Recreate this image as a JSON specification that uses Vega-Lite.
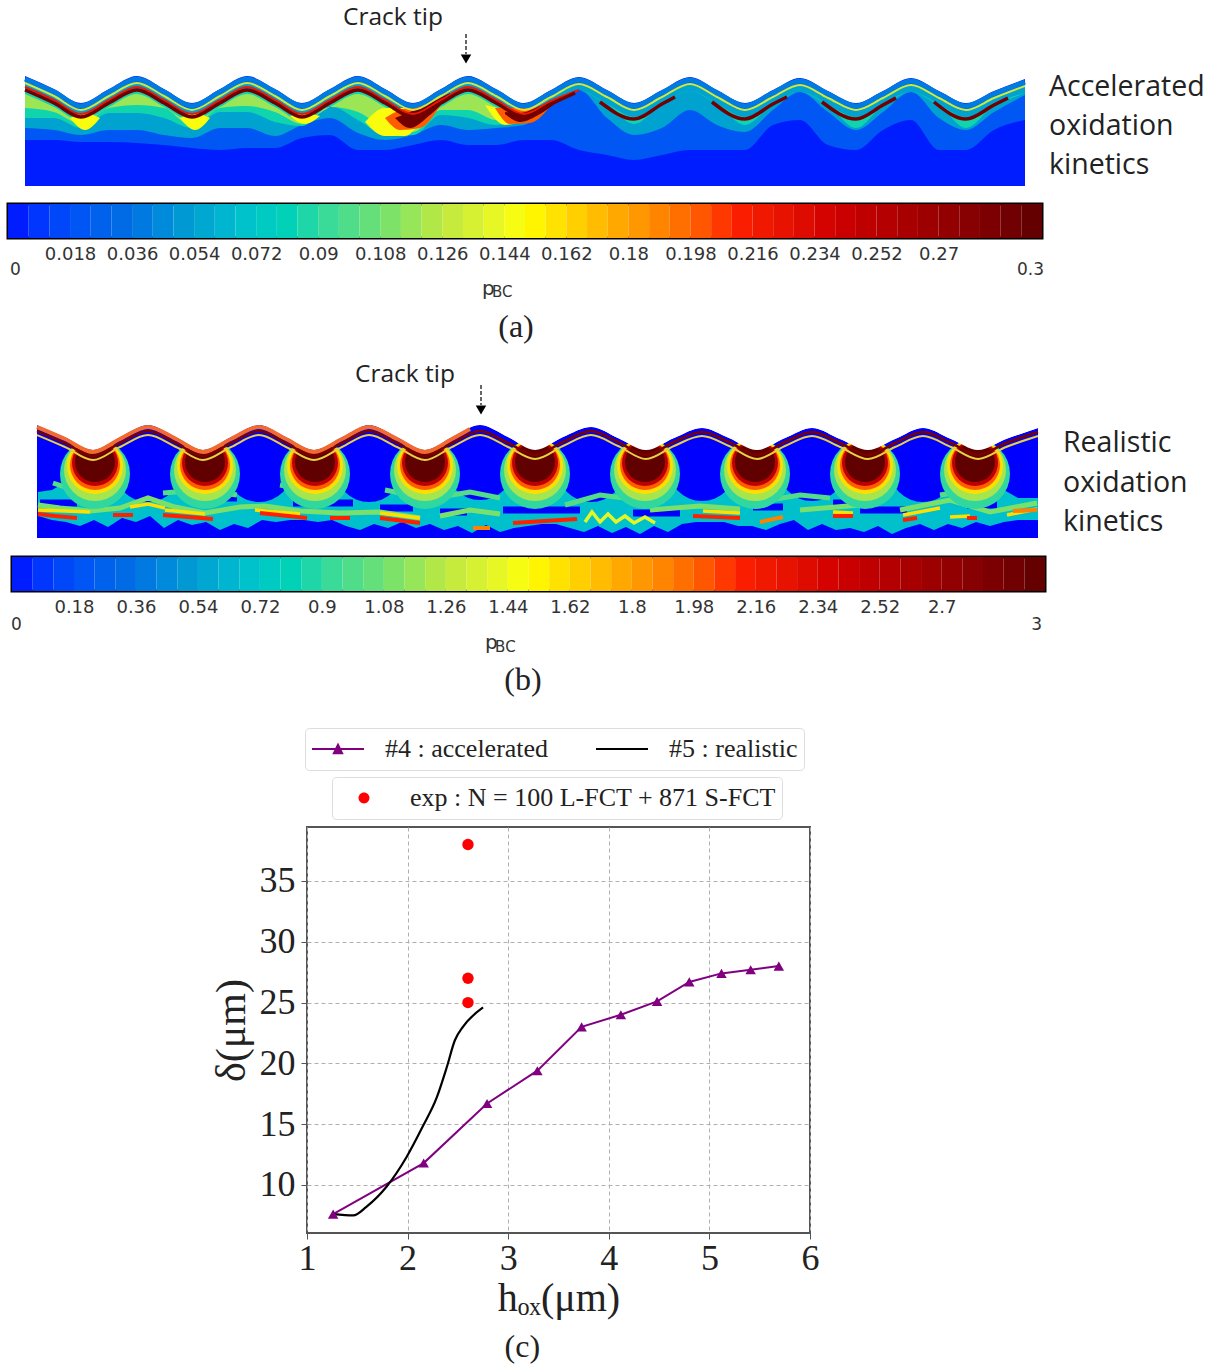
{"$schema":"https://vega.github.io/schema/vega-lite/v6.json","padding":{"left":6,"top":0,"right":0,"bottom":0},"bounds":"flush","spacing":0,"config":{"view":{"stroke":null}},"resolve":{"scale":{"color":"independent","shape":"independent","fill":"independent"}},
"vconcat":[
{"width":1034,"height":204,
"data":{"values":[
{"g":"base","v":0.003,"x":25,"y":76,"y2":186},{"g":"base","v":0.003,"x":54,"y":89,"y2":186},{"g":"base","v":0.003,"x":81,"y":103,"y2":186},{"g":"base","v":0.003,"x":109,"y":89,"y2":186},{"g":"base","v":0.003,"x":137,"y":76,"y2":186},{"g":"base","v":0.003,"x":164,"y":89,"y2":186},{"g":"base","v":0.003,"x":192,"y":103,"y2":186},{"g":"base","v":0.003,"x":220,"y":89,"y2":186},{"g":"base","v":0.003,"x":247,"y":76,"y2":186},{"g":"base","v":0.003,"x":275,"y":89,"y2":186},{"g":"base","v":0.003,"x":302,"y":103,"y2":186},{"g":"base","v":0.003,"x":330,"y":89,"y2":186},{"g":"base","v":0.003,"x":358,"y":76,"y2":186},{"g":"base","v":0.003,"x":385,"y":89,"y2":186},{"g":"base","v":0.003,"x":413,"y":103,"y2":186},{"g":"base","v":0.003,"x":441,"y":89,"y2":186},{"g":"base","v":0.003,"x":468,"y":76,"y2":186},{"g":"base","v":0.003,"x":496,"y":89,"y2":186},{"g":"base","v":0.003,"x":524,"y":103,"y2":186},{"g":"base","v":0.003,"x":551,"y":90,"y2":186},{"g":"base","v":0.003,"x":579,"y":77,"y2":186},{"g":"base","v":0.003,"x":607,"y":90,"y2":186},{"g":"base","v":0.003,"x":634,"y":103,"y2":186},{"g":"base","v":0.003,"x":662,"y":90,"y2":186},{"g":"base","v":0.003,"x":690,"y":77,"y2":186},{"g":"base","v":0.003,"x":717,"y":90,"y2":186},{"g":"base","v":0.003,"x":745,"y":103,"y2":186},{"g":"base","v":0.003,"x":773,"y":90,"y2":186},{"g":"base","v":0.003,"x":800,"y":78,"y2":186},{"g":"base","v":0.003,"x":828,"y":91,"y2":186},{"g":"base","v":0.003,"x":856,"y":103,"y2":186},{"g":"base","v":0.003,"x":883,"y":91,"y2":186},{"g":"base","v":0.003,"x":911,"y":78,"y2":186},{"g":"base","v":0.003,"x":939,"y":91,"y2":186},{"g":"base","v":0.003,"x":966,"y":103,"y2":186},{"g":"base","v":0.003,"x":994,"y":91,"y2":186},{"g":"base","v":0.003,"x":1025,"y":79,"y2":186},
{"g":"L1","v":0.022,"x":25,"y":81,"y2":140},{"g":"L1","v":0.022,"x":54,"y":94,"y2":140},{"g":"L1","v":0.022,"x":81,"y":108,"y2":142},{"g":"L1","v":0.022,"x":109,"y":94,"y2":142},{"g":"L1","v":0.022,"x":137,"y":81,"y2":143},{"g":"L1","v":0.022,"x":164,"y":94,"y2":145},{"g":"L1","v":0.022,"x":192,"y":108,"y2":148},{"g":"L1","v":0.022,"x":220,"y":94,"y2":150},{"g":"L1","v":0.022,"x":247,"y":81,"y2":148},{"g":"L1","v":0.022,"x":275,"y":94,"y2":148},{"g":"L1","v":0.022,"x":302,"y":108,"y2":138},{"g":"L1","v":0.022,"x":330,"y":94,"y2":135},{"g":"L1","v":0.022,"x":358,"y":81,"y2":150},{"g":"L1","v":0.022,"x":385,"y":94,"y2":150},{"g":"L1","v":0.022,"x":413,"y":108,"y2":145},{"g":"L1","v":0.022,"x":441,"y":94,"y2":140},{"g":"L1","v":0.022,"x":468,"y":81,"y2":145},{"g":"L1","v":0.022,"x":496,"y":94,"y2":145},{"g":"L1","v":0.022,"x":524,"y":108,"y2":140},{"g":"L1","v":0.022,"x":551,"y":95,"y2":140},{"g":"L1","v":0.022,"x":579,"y":82,"y2":150},{"g":"L1","v":0.022,"x":607,"y":95,"y2":155},{"g":"L1","v":0.022,"x":634,"y":108,"y2":160},{"g":"L1","v":0.022,"x":662,"y":95,"y2":155},{"g":"L1","v":0.022,"x":690,"y":82,"y2":150},{"g":"L1","v":0.022,"x":717,"y":95,"y2":150},{"g":"L1","v":0.022,"x":745,"y":108,"y2":150},{"g":"L1","v":0.022,"x":773,"y":95,"y2":125},{"g":"L1","v":0.022,"x":800,"y":83,"y2":120},{"g":"L1","v":0.022,"x":828,"y":96,"y2":145},{"g":"L1","v":0.022,"x":856,"y":108,"y2":150},{"g":"L1","v":0.022,"x":883,"y":96,"y2":130},{"g":"L1","v":0.022,"x":911,"y":83,"y2":120},{"g":"L1","v":0.022,"x":939,"y":96,"y2":150},{"g":"L1","v":0.022,"x":966,"y":108,"y2":150},{"g":"L1","v":0.022,"x":994,"y":96,"y2":130},{"g":"L1","v":0.022,"x":1025,"y":84,"y2":120},
{"g":"L2","v":0.055,"x":25,"y":84,"y2":128},{"g":"L2","v":0.055,"x":54,"y":97,"y2":130},{"g":"L2","v":0.055,"x":81,"y":111,"y2":135},{"g":"L2","v":0.055,"x":109,"y":97,"y2":130},{"g":"L2","v":0.055,"x":137,"y":84,"y2":130},{"g":"L2","v":0.055,"x":164,"y":97,"y2":135},{"g":"L2","v":0.055,"x":192,"y":111,"y2":138},{"g":"L2","v":0.055,"x":220,"y":97,"y2":128},{"g":"L2","v":0.055,"x":247,"y":84,"y2":128},{"g":"L2","v":0.055,"x":275,"y":97,"y2":136},{"g":"L2","v":0.055,"x":302,"y":111,"y2":125},{"g":"L2","v":0.055,"x":330,"y":97,"y2":118},{"g":"L2","v":0.055,"x":358,"y":84,"y2":133},{"g":"L2","v":0.055,"x":385,"y":97,"y2":140},{"g":"L2","v":0.055,"x":413,"y":111,"y2":135},{"g":"L2","v":0.055,"x":441,"y":97,"y2":125},{"g":"L2","v":0.055,"x":468,"y":84,"y2":130},{"g":"L2","v":0.055,"x":496,"y":97,"y2":128},{"g":"L2","v":0.055,"x":524,"y":111,"y2":125},{"g":"L2","v":0.055,"x":551,"y":98,"y2":105},{"g":"L2","v":0.055,"x":579,"y":85,"y2":90},{"g":"L2","v":0.055,"x":607,"y":98,"y2":118},{"g":"L2","v":0.055,"x":634,"y":111,"y2":135},{"g":"L2","v":0.055,"x":662,"y":98,"y2":128},{"g":"L2","v":0.055,"x":690,"y":85,"y2":110},{"g":"L2","v":0.055,"x":717,"y":98,"y2":125},{"g":"L2","v":0.055,"x":745,"y":111,"y2":132},{"g":"L2","v":0.055,"x":773,"y":98,"y2":110},{"g":"L2","v":0.055,"x":800,"y":86,"y2":92},{"g":"L2","v":0.055,"x":828,"y":99,"y2":112},{"g":"L2","v":0.055,"x":856,"y":111,"y2":130},{"g":"L2","v":0.055,"x":883,"y":99,"y2":112},{"g":"L2","v":0.055,"x":911,"y":86,"y2":92},{"g":"L2","v":0.055,"x":939,"y":99,"y2":118},{"g":"L2","v":0.055,"x":966,"y":111,"y2":130},{"g":"L2","v":0.055,"x":994,"y":99,"y2":112},{"g":"L2","v":0.055,"x":1025,"y":87,"y2":95},
{"g":"L3","v":0.085,"x":25,"y":90,"y2":118},{"g":"L3","v":0.085,"x":54,"y":103,"y2":118},{"g":"L3","v":0.085,"x":81,"y":117,"y2":128},{"g":"L3","v":0.085,"x":109,"y":103,"y2":113},{"g":"L3","v":0.085,"x":137,"y":90,"y2":113},{"g":"L3","v":0.085,"x":164,"y":103,"y2":118},{"g":"L3","v":0.085,"x":192,"y":117,"y2":128},{"g":"L3","v":0.085,"x":220,"y":103,"y2":112},{"g":"L3","v":0.085,"x":247,"y":90,"y2":112},{"g":"L3","v":0.085,"x":275,"y":103,"y2":122},{"g":"L3","v":0.085,"x":302,"y":117,"y2":126},{"g":"L3","v":0.085,"x":330,"y":103,"y2":106},{"g":"L3","v":0.085,"x":358,"y":90,"y2":120},{"g":"L3","v":0.085,"x":385,"y":103,"y2":135},{"g":"L3","v":0.085,"x":413,"y":117,"y2":135},{"g":"L3","v":0.085,"x":441,"y":103,"y2":115},{"g":"L3","v":0.085,"x":468,"y":90,"y2":118},{"g":"L3","v":0.085,"x":496,"y":103,"y2":125},{"g":"L3","v":0.085,"x":524,"y":117,"y2":118},{"g":"L3","v":0.085,"x":551,"y":104,"y2":104},{"g":"L3","v":0.085,"x":579,"y":91,"y2":91},{"g":"L3","v":0.085,"x":607,"y":104,"y2":104},{"g":"L3","v":0.085,"x":634,"y":117,"y2":124},{"g":"L3","v":0.085,"x":662,"y":104,"y2":104},{"g":"L3","v":0.085,"x":690,"y":91,"y2":91},{"g":"L3","v":0.085,"x":717,"y":104,"y2":104},{"g":"L3","v":0.085,"x":745,"y":117,"y2":125},{"g":"L3","v":0.085,"x":773,"y":104,"y2":104},{"g":"L3","v":0.085,"x":800,"y":92,"y2":92},{"g":"L3","v":0.085,"x":828,"y":105,"y2":105},{"g":"L3","v":0.085,"x":856,"y":117,"y2":128},{"g":"L3","v":0.085,"x":883,"y":105,"y2":105},{"g":"L3","v":0.085,"x":911,"y":92,"y2":92},{"g":"L3","v":0.085,"x":939,"y":105,"y2":105},{"g":"L3","v":0.085,"x":966,"y":117,"y2":128},{"g":"L3","v":0.085,"x":994,"y":105,"y2":105},{"g":"L3","v":0.085,"x":1025,"y":93,"y2":93},
{"g":"L4","v":0.118,"x":25,"y":94,"y2":108},{"g":"L4","v":0.118,"x":54,"y":107,"y2":112},{"g":"L4","v":0.118,"x":81,"y":121,"y2":124},{"g":"L4","v":0.118,"x":109,"y":107,"y2":108},{"g":"L4","v":0.118,"x":137,"y":94,"y2":105},{"g":"L4","v":0.118,"x":164,"y":107,"y2":108},{"g":"L4","v":0.118,"x":192,"y":121,"y2":126},{"g":"L4","v":0.118,"x":220,"y":107,"y2":108},{"g":"L4","v":0.118,"x":247,"y":94,"y2":106},{"g":"L4","v":0.118,"x":275,"y":107,"y2":112},{"g":"L4","v":0.118,"x":302,"y":121,"y2":124},{"g":"L4","v":0.118,"x":330,"y":107,"y2":107},{"g":"L4","v":0.118,"x":358,"y":94,"y2":112},{"g":"L4","v":0.118,"x":385,"y":107,"y2":128},{"g":"L4","v":0.118,"x":413,"y":121,"y2":132},{"g":"L4","v":0.118,"x":441,"y":107,"y2":110},{"g":"L4","v":0.118,"x":468,"y":94,"y2":110},{"g":"L4","v":0.118,"x":496,"y":107,"y2":120},{"g":"L4","v":0.118,"x":524,"y":121,"y2":121},
{"g":"p1","v":0.148,"x":70,"y":118,"y2":118},{"g":"p1","v":0.148,"x":85,"y":113,"y2":130},{"g":"p1","v":0.148,"x":100,"y":118,"y2":118},
{"g":"p2","v":0.148,"x":180,"y":118,"y2":118},{"g":"p2","v":0.148,"x":195,"y":113,"y2":130},{"g":"p2","v":0.148,"x":210,"y":118,"y2":118},
{"g":"p3","v":0.148,"x":290,"y":116,"y2":116},{"g":"p3","v":0.148,"x":305,"y":113,"y2":124},{"g":"p3","v":0.148,"x":320,"y":116,"y2":116},
{"g":"p4","v":0.148,"x":365,"y":122,"y2":122},{"g":"p4","v":0.148,"x":385,"y":108,"y2":136},{"g":"p4","v":0.148,"x":405,"y":108,"y2":136},{"g":"p4","v":0.148,"x":425,"y":104,"y2":112},
{"g":"p5","v":0.148,"x":485,"y":105,"y2":105},{"g":"p5","v":0.148,"x":505,"y":110,"y2":125},{"g":"p5","v":0.148,"x":530,"y":118,"y2":118},
{"g":"p6","v":0.2,"x":385,"y":118,"y2":118},{"g":"p6","v":0.2,"x":400,"y":110,"y2":130},{"g":"p6","v":0.2,"x":420,"y":106,"y2":128},{"g":"p6","v":0.2,"x":440,"y":100,"y2":106},
{"g":"p7","v":0.2,"x":495,"y":108,"y2":108},{"g":"p7","v":0.2,"x":510,"y":108,"y2":124},{"g":"p7","v":0.2,"x":530,"y":108,"y2":123},{"g":"p7","v":0.2,"x":555,"y":100,"y2":100},
{"g":"p8","v":0.29,"x":395,"y":118,"y2":118},{"g":"p8","v":0.29,"x":410,"y":112,"y2":128},{"g":"p8","v":0.29,"x":430,"y":103,"y2":115},{"g":"p8","v":0.29,"x":450,"y":93,"y2":96},
{"g":"p9","v":0.29,"x":505,"y":112,"y2":114},{"g":"p9","v":0.29,"x":520,"y":113,"y2":122},{"g":"p9","v":0.29,"x":540,"y":106,"y2":114},{"g":"p9","v":0.29,"x":560,"y":98,"y2":100}
]},
"encoding":{"x":{"field":"x","type":"quantitative","scale":{"domain":[8,1042],"nice":false,"zero":false},"axis":null},"y":{"field":"y","type":"quantitative","scale":{"domain":[0,204],"reverse":true,"nice":false,"zero":false},"axis":null},"color":{"field":"v","type":"quantitative","legend":null,"scale":{"domain":[0,0.036,0.054,0.072,0.09,0.108,0.126,0.15,0.18,0.21,0.24,0.27,0.3],"range":["#0000ff","#0070e0","#00a0d0","#00c8c8","#30d8a0","#70e070","#c0e840","#ffff00","#ffa000","#ff2000","#d00000","#980000","#600000"]}}},
"layer":[
{"mark":{"type":"area","interpolate":"monotone"},"encoding":{"y2":{"field":"y2"},"detail":{"field":"g"}}},
{"data":{"values":[
{"g":"r","v":0.04,"x":25,"y":79},{"g":"r","v":0.04,"x":54,"y":92},{"g":"r","v":0.04,"x":81,"y":106},{"g":"r","v":0.04,"x":109,"y":92},{"g":"r","v":0.04,"x":137,"y":79},{"g":"r","v":0.04,"x":164,"y":92},{"g":"r","v":0.04,"x":192,"y":106},{"g":"r","v":0.04,"x":220,"y":92},{"g":"r","v":0.04,"x":247,"y":79},{"g":"r","v":0.04,"x":275,"y":92},{"g":"r","v":0.04,"x":302,"y":106},{"g":"r","v":0.04,"x":330,"y":92},{"g":"r","v":0.04,"x":358,"y":79},{"g":"r","v":0.04,"x":385,"y":92},{"g":"r","v":0.04,"x":413,"y":106},{"g":"r","v":0.04,"x":441,"y":92},{"g":"r","v":0.04,"x":468,"y":79},{"g":"r","v":0.04,"x":496,"y":92},{"g":"r","v":0.04,"x":524,"y":106},{"g":"r","v":0.04,"x":551,"y":93},{"g":"r","v":0.04,"x":579,"y":80},{"g":"r","v":0.04,"x":607,"y":93},{"g":"r","v":0.04,"x":634,"y":106},{"g":"r","v":0.04,"x":662,"y":93},{"g":"r","v":0.04,"x":690,"y":80},{"g":"r","v":0.04,"x":717,"y":93},{"g":"r","v":0.04,"x":745,"y":106},{"g":"r","v":0.04,"x":773,"y":93},{"g":"r","v":0.04,"x":800,"y":81},{"g":"r","v":0.04,"x":828,"y":94},{"g":"r","v":0.04,"x":856,"y":106},{"g":"r","v":0.04,"x":883,"y":94},{"g":"r","v":0.04,"x":911,"y":81},{"g":"r","v":0.04,"x":939,"y":94},{"g":"r","v":0.04,"x":966,"y":106},{"g":"r","v":0.04,"x":994,"y":94},{"g":"r","v":0.04,"x":1025,"y":82}
]},"mark":{"type":"line","interpolate":"monotone","strokeWidth":5}},
{"data":{"values":[
{"g":"y","v":0.13,"x":25,"y":83},{"g":"y","v":0.13,"x":54,"y":96},{"g":"y","v":0.13,"x":81,"y":110},{"g":"y","v":0.13,"x":109,"y":96},{"g":"y","v":0.13,"x":137,"y":83},{"g":"y","v":0.13,"x":164,"y":96},{"g":"y","v":0.13,"x":192,"y":110},{"g":"y","v":0.13,"x":220,"y":96},{"g":"y","v":0.13,"x":247,"y":83},{"g":"y","v":0.13,"x":275,"y":96},{"g":"y","v":0.13,"x":302,"y":110},{"g":"y","v":0.13,"x":330,"y":96},{"g":"y","v":0.13,"x":358,"y":83},{"g":"y","v":0.13,"x":385,"y":96},{"g":"y","v":0.13,"x":413,"y":110},{"g":"y","v":0.13,"x":441,"y":96},{"g":"y","v":0.13,"x":468,"y":83},{"g":"y","v":0.13,"x":496,"y":96},{"g":"y","v":0.13,"x":524,"y":110},{"g":"y","v":0.13,"x":551,"y":97},{"g":"y","v":0.13,"x":579,"y":84},{"g":"y","v":0.13,"x":607,"y":97},{"g":"y","v":0.13,"x":634,"y":110},{"g":"y","v":0.13,"x":662,"y":97},{"g":"y","v":0.13,"x":690,"y":84},{"g":"y","v":0.13,"x":717,"y":97},{"g":"y","v":0.13,"x":745,"y":110},{"g":"y","v":0.13,"x":773,"y":97},{"g":"y","v":0.13,"x":800,"y":85},{"g":"y","v":0.13,"x":828,"y":98},{"g":"y","v":0.13,"x":856,"y":110},{"g":"y","v":0.13,"x":883,"y":98},{"g":"y","v":0.13,"x":911,"y":85},{"g":"y","v":0.13,"x":939,"y":98},{"g":"y","v":0.13,"x":966,"y":110},{"g":"y","v":0.13,"x":994,"y":98},{"g":"y","v":0.13,"x":1025,"y":86},
{"g":"o","v":0.22,"x":25,"y":87},{"g":"o","v":0.22,"x":54,"y":100},{"g":"o","v":0.22,"x":81,"y":114},{"g":"o","v":0.22,"x":109,"y":100},{"g":"o","v":0.22,"x":137,"y":87},{"g":"o","v":0.22,"x":164,"y":100},{"g":"o","v":0.22,"x":192,"y":114},{"g":"o","v":0.22,"x":220,"y":100},{"g":"o","v":0.22,"x":247,"y":87},{"g":"o","v":0.22,"x":275,"y":100},{"g":"o","v":0.22,"x":302,"y":114},{"g":"o","v":0.22,"x":330,"y":100},{"g":"o","v":0.22,"x":358,"y":87},{"g":"o","v":0.22,"x":385,"y":100},{"g":"o","v":0.22,"x":413,"y":114},{"g":"o","v":0.22,"x":441,"y":100},{"g":"o","v":0.22,"x":468,"y":87},{"g":"o","v":0.22,"x":496,"y":100},{"g":"o","v":0.22,"x":524,"y":114},{"g":"o","v":0.22,"x":551,"y":101},{"g":"o","v":0.22,"x":579,"y":90}
]},"mark":{"type":"line","interpolate":"monotone","strokeWidth":2},"encoding":{"detail":{"field":"g"}}},
{"data":{"values":[
{"g":"d","v":0.29,"x":25,"y":90},{"g":"d","v":0.29,"x":54,"y":103},{"g":"d","v":0.29,"x":81,"y":117},{"g":"d","v":0.29,"x":109,"y":103},{"g":"d","v":0.29,"x":137,"y":90},{"g":"d","v":0.29,"x":164,"y":103},{"g":"d","v":0.29,"x":192,"y":117},{"g":"d","v":0.29,"x":220,"y":103},{"g":"d","v":0.29,"x":247,"y":90},{"g":"d","v":0.29,"x":275,"y":103},{"g":"d","v":0.29,"x":302,"y":117},{"g":"d","v":0.29,"x":330,"y":103},{"g":"d","v":0.29,"x":358,"y":90},{"g":"d","v":0.29,"x":385,"y":103},{"g":"d","v":0.29,"x":413,"y":117},{"g":"d","v":0.29,"x":441,"y":103},{"g":"d","v":0.29,"x":468,"y":90},{"g":"d","v":0.29,"x":496,"y":103},{"g":"d","v":0.29,"x":524,"y":117},{"g":"d","v":0.29,"x":551,"y":104},{"g":"d","v":0.29,"x":575,"y":93},
{"g":"f1","v":0.29,"x":600,"y":102},{"g":"f1","v":0.29,"x":634,"y":119},{"g":"f1","v":0.29,"x":662,"y":104},{"g":"f1","v":0.29,"x":675,"y":97},
{"g":"f2","v":0.29,"x":712,"y":102},{"g":"f2","v":0.29,"x":745,"y":119},{"g":"f2","v":0.29,"x":773,"y":104},{"g":"f2","v":0.29,"x":787,"y":97},
{"g":"f3","v":0.29,"x":822,"y":102},{"g":"f3","v":0.29,"x":856,"y":119},{"g":"f3","v":0.29,"x":883,"y":105},{"g":"f3","v":0.29,"x":896,"y":98},
{"g":"f4","v":0.29,"x":934,"y":102},{"g":"f4","v":0.29,"x":966,"y":119},{"g":"f4","v":0.29,"x":994,"y":105},{"g":"f4","v":0.29,"x":1008,"y":98}
]},"mark":{"type":"line","interpolate":"monotone","strokeWidth":3.5},"encoding":{"detail":{"field":"g"}}},
{"data":{"values":[{"x":466,"y":34,"y2":54}]},"mark":{"type":"rule","strokeDash":[4,2],"strokeWidth":1.2},"encoding":{"y2":{"field":"y2"},"color":{"value":"#000"}}},
{"data":{"values":[{"x":466,"y":59}]},"mark":{"type":"point","shape":"triangle-down","filled":true,"size":110,"opacity":1},"encoding":{"color":{"value":"#000"}}},
{"data":{"values":[{"t":"Crack tip","x":393,"y":18}]},"mark":{"type":"text","font":"Open Sans","fontSize":24.5,"align":"center"},"encoding":{"text":{"field":"t"},"color":{"value":"#222"}}},
{"data":{"values":[{"t":"Accelerated","x":1049,"y":87},{"t":"oxidation","x":1049,"y":126},{"t":"kinetics","x":1049,"y":165}]},"mark":{"type":"text","font":"Open Sans","fontSize":28.5,"align":"left"},"encoding":{"text":{"field":"t"},"color":{"value":"#222"}}}
]},
{"width":1034,"height":34,"view":{"stroke":"#000","strokeWidth":3},
"data":{"values":[{"a":0,"b":0.006,"v":0.003},{"a":0.006,"b":0.012,"v":0.009},{"a":0.012,"b":0.018,"v":0.015},{"a":0.018,"b":0.024,"v":0.021},{"a":0.024,"b":0.03,"v":0.027},{"a":0.03,"b":0.036,"v":0.033},{"a":0.036,"b":0.042,"v":0.039},{"a":0.042,"b":0.048,"v":0.045},{"a":0.048,"b":0.054,"v":0.051},{"a":0.054,"b":0.06,"v":0.057},{"a":0.06,"b":0.066,"v":0.063},{"a":0.066,"b":0.072,"v":0.069},{"a":0.072,"b":0.078,"v":0.075},{"a":0.078,"b":0.084,"v":0.081},{"a":0.084,"b":0.09,"v":0.087},{"a":0.09,"b":0.096,"v":0.093},{"a":0.096,"b":0.102,"v":0.099},{"a":0.102,"b":0.108,"v":0.105},{"a":0.108,"b":0.114,"v":0.111},{"a":0.114,"b":0.12,"v":0.117},{"a":0.12,"b":0.126,"v":0.123},{"a":0.126,"b":0.132,"v":0.129},{"a":0.132,"b":0.138,"v":0.135},{"a":0.138,"b":0.144,"v":0.141},{"a":0.144,"b":0.15,"v":0.147},{"a":0.15,"b":0.156,"v":0.153},{"a":0.156,"b":0.162,"v":0.159},{"a":0.162,"b":0.168,"v":0.165},{"a":0.168,"b":0.174,"v":0.171},{"a":0.174,"b":0.18,"v":0.177},{"a":0.18,"b":0.186,"v":0.183},{"a":0.186,"b":0.192,"v":0.189},{"a":0.192,"b":0.198,"v":0.195},{"a":0.198,"b":0.204,"v":0.201},{"a":0.204,"b":0.21,"v":0.207},{"a":0.21,"b":0.216,"v":0.213},{"a":0.216,"b":0.222,"v":0.219},{"a":0.222,"b":0.228,"v":0.225},{"a":0.228,"b":0.234,"v":0.231},{"a":0.234,"b":0.24,"v":0.237},{"a":0.24,"b":0.246,"v":0.243},{"a":0.246,"b":0.252,"v":0.249},{"a":0.252,"b":0.258,"v":0.255},{"a":0.258,"b":0.264,"v":0.261},{"a":0.264,"b":0.27,"v":0.267},{"a":0.27,"b":0.276,"v":0.273},{"a":0.276,"b":0.282,"v":0.279},{"a":0.282,"b":0.288,"v":0.285},{"a":0.288,"b":0.294,"v":0.291},{"a":0.294,"b":0.3,"v":0.297}]},
"layer":[
{"mark":{"type":"rect"},"encoding":{"x":{"field":"a","type":"quantitative","scale":{"domain":[0,0.3],"nice":false,"zero":false},"axis":{"values":[0.018,0.036,0.054,0.072,0.09,0.108,0.126,0.144,0.162,0.18,0.198,0.216,0.234,0.252,0.27],"format":".3~f","title":null,"domain":false,"ticks":false,"grid":false,"labelFont":"DejaVu Sans","labelFontSize":18,"labelColor":"#333","labelPadding":7,"labelOverlap":false}},"x2":{"field":"b"},"color":{"field":"v","type":"quantitative","legend":null,"scale":{"domain":[0,0.036,0.054,0.072,0.09,0.108,0.126,0.15,0.18,0.21,0.24,0.27,0.3],"range":["#0000ff","#0070e0","#00a0d0","#00c8c8","#30d8a0","#70e070","#c0e840","#ffff00","#ffa000","#ff2000","#d00000","#980000","#600000"]}}}},
{"data":{"values":[{"a":0,"t":"0"}]},"mark":{"type":"text","font":"DejaVu Sans","fontSize":17,"dy":49,"dx":2,"align":"left","color":"#333"},"encoding":{"x":{"field":"a","type":"quantitative"},"text":{"field":"t"}}},
{"data":{"values":[{"a":0.3,"t":"0.3"}]},"mark":{"type":"text","font":"DejaVu Sans","fontSize":17,"dy":49,"dx":2,"align":"right","color":"#333"},"encoding":{"x":{"field":"a","type":"quantitative"},"text":{"field":"t"}}},
{"data":{"values":[{"a":0.1375,"t":"p"}]},"mark":{"type":"text","font":"DejaVu Sans","fontSize":20,"dy":68,"align":"left","color":"#333"},"encoding":{"x":{"field":"a","type":"quantitative"},"text":{"field":"t"}}},
{"data":{"values":[{"a":0.1404,"t":"BC"}]},"mark":{"type":"text","font":"DejaVu Sans","fontSize":15,"dy":71,"align":"left","color":"#333"},"encoding":{"x":{"field":"a","type":"quantitative"},"text":{"field":"t"}}}
]},
{"width":1034,"height":319,
"data":{"values":[
{"x":37,"y":425,"y2":538},{"x":65,"y":437,"y2":538},{"x":93,"y":450,"y2":538},{"x":120,"y":437,"y2":538},{"x":148,"y":425,"y2":538},{"x":176,"y":437,"y2":538},{"x":203,"y":450,"y2":538},{"x":231,"y":437,"y2":538},{"x":259,"y":425,"y2":538},{"x":286,"y":437,"y2":538},{"x":314,"y":450,"y2":538},{"x":342,"y":437,"y2":538},{"x":369,"y":425,"y2":538},{"x":397,"y":437,"y2":538},{"x":425,"y":450,"y2":538},{"x":452,"y":437,"y2":538},{"x":480,"y":425,"y2":538},{"x":508,"y":437,"y2":538},{"x":535,"y":450,"y2":538},{"x":563,"y":437,"y2":538},{"x":591,"y":427,"y2":538},{"x":618,"y":438,"y2":538},{"x":646,"y":450,"y2":538},{"x":674,"y":438,"y2":538},{"x":702,"y":428,"y2":538},{"x":729,"y":438,"y2":538},{"x":757,"y":450,"y2":538},{"x":785,"y":438,"y2":538},{"x":812,"y":428,"y2":538},{"x":840,"y":439,"y2":538},{"x":868,"y":450,"y2":538},{"x":895,"y":439,"y2":538},{"x":923,"y":428,"y2":538},{"x":951,"y":439,"y2":538},{"x":978,"y":450,"y2":538},{"x":1006,"y":439,"y2":538},{"x":1038,"y":428,"y2":538}
]},
"encoding":{"x":{"field":"x","type":"quantitative","scale":{"domain":[8,1042],"nice":false,"zero":false},"axis":null},"y":{"field":"y","type":"quantitative","scale":{"domain":[238,557],"reverse":true,"nice":false,"zero":false},"axis":null},"color":{"field":"v","type":"quantitative","legend":null,"scale":{"domain":[0,0.36,0.54,0.72,0.9,1.08,1.26,1.5,1.8,2.1,2.4,2.7,3],"range":["#0000ff","#0070e0","#00a0d0","#00c8c8","#30d8a0","#70e070","#c0e840","#ffff00","#ffa000","#ff2000","#d00000","#980000","#600000"]}}},
"layer":[
{"mark":{"type":"area","interpolate":"monotone"},"encoding":{"y2":{"field":"y2"},"color":{"value":"#0000ff"}}},
{"data":{"values":[{"v":0.68,"x":38,"y":492,"y2":516},{"v":0.68,"x":52,"y":490,"y2":520},{"v":0.68,"x":66,"y":482,"y2":522},{"v":0.68,"x":80,"y":472,"y2":526},{"v":0.68,"x":94,"y":470,"y2":520},{"v":0.68,"x":108,"y":470,"y2":527},{"v":0.68,"x":122,"y":470,"y2":518},{"v":0.68,"x":136,"y":470,"y2":522},{"v":0.68,"x":150,"y":470,"y2":516},{"v":0.68,"x":164,"y":470,"y2":528},{"v":0.68,"x":178,"y":470,"y2":520},{"v":0.68,"x":192,"y":470,"y2":525},{"v":0.68,"x":206,"y":470,"y2":522},{"v":0.68,"x":220,"y":470,"y2":530},{"v":0.68,"x":234,"y":470,"y2":524},{"v":0.68,"x":248,"y":470,"y2":528},{"v":0.68,"x":262,"y":470,"y2":520},{"v":0.68,"x":276,"y":470,"y2":522},{"v":0.68,"x":290,"y":470,"y2":520},{"v":0.68,"x":304,"y":470,"y2":520},{"v":0.68,"x":318,"y":470,"y2":522},{"v":0.68,"x":332,"y":470,"y2":520},{"v":0.68,"x":346,"y":470,"y2":526},{"v":0.68,"x":360,"y":470,"y2":530},{"v":0.68,"x":374,"y":470,"y2":524},{"v":0.68,"x":388,"y":470,"y2":528},{"v":0.68,"x":402,"y":470,"y2":522},{"v":0.68,"x":416,"y":470,"y2":528},{"v":0.68,"x":430,"y":470,"y2":524},{"v":0.68,"x":444,"y":470,"y2":530},{"v":0.68,"x":458,"y":470,"y2":526},{"v":0.68,"x":472,"y":470,"y2":533},{"v":0.68,"x":486,"y":470,"y2":525},{"v":0.68,"x":500,"y":470,"y2":532},{"v":0.68,"x":514,"y":470,"y2":528},{"v":0.68,"x":528,"y":470,"y2":526},{"v":0.68,"x":542,"y":470,"y2":524},{"v":0.68,"x":556,"y":470,"y2":524},{"v":0.68,"x":570,"y":470,"y2":528},{"v":0.68,"x":584,"y":470,"y2":532},{"v":0.68,"x":598,"y":470,"y2":526},{"v":0.68,"x":612,"y":470,"y2":533},{"v":0.68,"x":626,"y":470,"y2":527},{"v":0.68,"x":640,"y":470,"y2":534},{"v":0.68,"x":654,"y":470,"y2":526},{"v":0.68,"x":668,"y":470,"y2":532},{"v":0.68,"x":682,"y":470,"y2":524},{"v":0.68,"x":696,"y":470,"y2":522},{"v":0.68,"x":710,"y":470,"y2":522},{"v":0.68,"x":724,"y":470,"y2":522},{"v":0.68,"x":738,"y":470,"y2":526},{"v":0.68,"x":752,"y":470,"y2":526},{"v":0.68,"x":766,"y":470,"y2":530},{"v":0.68,"x":780,"y":470,"y2":524},{"v":0.68,"x":794,"y":470,"y2":520},{"v":0.68,"x":808,"y":470,"y2":530},{"v":0.68,"x":822,"y":470,"y2":524},{"v":0.68,"x":836,"y":470,"y2":530},{"v":0.68,"x":850,"y":470,"y2":528},{"v":0.68,"x":864,"y":470,"y2":532},{"v":0.68,"x":878,"y":470,"y2":526},{"v":0.68,"x":892,"y":470,"y2":534},{"v":0.68,"x":906,"y":470,"y2":528},{"v":0.68,"x":920,"y":470,"y2":524},{"v":0.68,"x":934,"y":470,"y2":530},{"v":0.68,"x":948,"y":470,"y2":524},{"v":0.68,"x":962,"y":470,"y2":528},{"v":0.68,"x":976,"y":470,"y2":522},{"v":0.68,"x":990,"y":475,"y2":526},{"v":0.68,"x":1004,"y":490,"y2":522},{"v":0.68,"x":1018,"y":498,"y2":520},{"v":0.68,"x":1038,"y":498,"y2":520}]},"mark":{"type":"area","interpolate":"linear"},"encoding":{"y2":{"field":"y2"}}},
{"data":{"values":[{"x":148,"y":468},{"x":259,"y":468},{"x":369,"y":468},{"x":480,"y":466},{"x":591,"y":468},{"x":702,"y":467},{"x":812,"y":467},{"x":923,"y":468}]},"mark":{"type":"circle","size":4624,"opacity":1},"encoding":{"color":{"value":"#0000ff"}}},
{"data":{"values":[{"g":"b1","v":0,"x":40,"y":503},{"g":"b1","v":0,"x":77,"y":503},{"g":"b2","v":0,"x":187,"y":498},{"g":"b2","v":0,"x":237,"y":498},{"g":"b3","v":0,"x":293,"y":503},{"g":"b3","v":0,"x":353,"y":503},{"g":"b4","v":0,"x":380,"y":508},{"g":"b4","v":0,"x":413,"y":508},{"g":"b5","v":0,"x":440,"y":512},{"g":"b5","v":0,"x":467,"y":512},{"g":"b6","v":0,"x":503,"y":510},{"g":"b6","v":0,"x":580,"y":510},{"g":"b7","v":0,"x":633,"y":513},{"g":"b7","v":0,"x":680,"y":513},{"g":"b8","v":0,"x":753,"y":507},{"g":"b8","v":0,"x":783,"y":507},{"g":"b9","v":0,"x":833,"y":503},{"g":"b9","v":0,"x":853,"y":503},{"g":"b10","v":0,"x":860,"y":510},{"g":"b10","v":0,"x":907,"y":510},{"g":"b11","v":0,"x":967,"y":505},{"g":"b11","v":0,"x":997,"y":505}]},"mark":{"type":"line","strokeWidth":7},"encoding":{"detail":{"field":"g"}}},
{"data":{"values":[{"g":"s1","v":1,"x":53,"y":483},{"g":"s1","v":1,"x":80,"y":492},{"g":"s1","v":1,"x":110,"y":497},{"g":"s2","v":1,"x":163,"y":493},{"g":"s2","v":1,"x":200,"y":490},{"g":"s2","v":1,"x":237,"y":495},{"g":"s3","v":1,"x":280,"y":485},{"g":"s3","v":1,"x":310,"y":490},{"g":"s3","v":1,"x":337,"y":488},{"g":"s4","v":1,"x":385,"y":490},{"g":"s4","v":1,"x":410,"y":495},{"g":"s5","v":1,"x":440,"y":497},{"g":"s5","v":1,"x":470,"y":492},{"g":"s5","v":1,"x":500,"y":498},{"g":"s6","v":1,"x":565,"y":505},{"g":"s6","v":1,"x":600,"y":495},{"g":"s6","v":1,"x":640,"y":500},{"g":"s7","v":1,"x":770,"y":500},{"g":"s7","v":1,"x":800,"y":495},{"g":"s7","v":1,"x":830,"y":498},{"g":"s8","v":1,"x":940,"y":495},{"g":"s8","v":1,"x":985,"y":488},
{"g":"g1","v":1.1,"x":38,"y":505},{"g":"g1","v":1.1,"x":60,"y":508},{"g":"g1","v":1.1,"x":90,"y":511},{"g":"g1","v":1.1,"x":120,"y":508},{"g":"g1","v":1.1,"x":148,"y":498},{"g":"g1","v":1.1,"x":175,"y":507},{"g":"g1","v":1.1,"x":205,"y":513},{"g":"g1","v":1.1,"x":240,"y":507},{"g":"g1","v":1.1,"x":265,"y":506},{"g":"g1","v":1.1,"x":300,"y":511},{"g":"g1","v":1.1,"x":340,"y":513},{"g":"g1","v":1.1,"x":380,"y":512},{"g":"g1","v":1.1,"x":420,"y":518},{"g":"g2","v":1.1,"x":440,"y":516},{"g":"g2","v":1.1,"x":470,"y":510},{"g":"g2","v":1.1,"x":500,"y":514},{"g":"g3","v":1.1,"x":650,"y":510},{"g":"g3","v":1.1,"x":700,"y":506},{"g":"g3","v":1.1,"x":740,"y":509},{"g":"g4","v":1.1,"x":800,"y":510},{"g":"g4","v":1.1,"x":860,"y":505},{"g":"g5","v":1.1,"x":900,"y":510},{"g":"g5","v":1.1,"x":950,"y":500},{"g":"g5","v":1.1,"x":990,"y":512},{"g":"g5","v":1.1,"x":1037,"y":503}]},"mark":{"type":"line","strokeWidth":5},"encoding":{"detail":{"field":"g"}}},
{"data":{"values":[{"g":"y1","v":1.6,"x":38,"y":510},{"g":"y1","v":1.6,"x":65,"y":511},{"g":"y1","v":1.6,"x":90,"y":512},{"g":"y2","v":1.6,"x":130,"y":507},{"g":"y2","v":1.6,"x":148,"y":504},{"g":"y2","v":1.6,"x":165,"y":508},{"g":"y3","v":1.6,"x":165,"y":510},{"g":"y3","v":1.6,"x":205,"y":514},{"g":"y4","v":1.6,"x":255,"y":510},{"g":"y4","v":1.6,"x":300,"y":514},{"g":"y5","v":1.6,"x":380,"y":513},{"g":"y5","v":1.6,"x":420,"y":518},{"g":"y6","v":1.6,"x":703,"y":511},{"g":"y6","v":1.6,"x":740,"y":513},{"g":"y7","v":1.6,"x":833,"y":512},{"g":"y7","v":1.6,"x":853,"y":513},{"g":"y8","v":1.6,"x":903,"y":515},{"g":"y8","v":1.6,"x":940,"y":508},{"g":"y9","v":1.6,"x":950,"y":517},{"g":"y9","v":1.6,"x":970,"y":516},{"g":"y10","v":1.6,"x":1007,"y":515},{"g":"y10","v":1.6,"x":1037,"y":509},
{"g":"z","v":1.4,"x":585,"y":522},{"g":"z","v":1.4,"x":592,"y":512},{"g":"z","v":1.4,"x":600,"y":522},{"g":"z","v":1.4,"x":608,"y":514},{"g":"z","v":1.4,"x":616,"y":522},{"g":"z","v":1.4,"x":625,"y":516},{"g":"z","v":1.4,"x":634,"y":523},{"g":"z","v":1.4,"x":645,"y":517},{"g":"z","v":1.4,"x":655,"y":523}]},"mark":{"type":"line","strokeWidth":3.5},"encoding":{"detail":{"field":"g"}}},
{"data":{"values":[{"g":"R1","v":2.1,"x":38,"y":514},{"g":"R1","v":2.1,"x":55,"y":516},{"g":"R1","v":2.1,"x":77,"y":518},{"g":"R2","v":2.1,"x":113,"y":515},{"g":"R2","v":2.1,"x":133,"y":515},{"g":"R3","v":2.1,"x":163,"y":515},{"g":"R3","v":2.1,"x":213,"y":519},{"g":"R4","v":2.1,"x":260,"y":513},{"g":"R4","v":2.1,"x":307,"y":518},{"g":"R5","v":2.1,"x":330,"y":518},{"g":"R5","v":2.1,"x":350,"y":518},{"g":"R6","v":2.1,"x":380,"y":518},{"g":"R6","v":2.1,"x":420,"y":523},{"g":"R7","v":2.1,"x":513,"y":523},{"g":"R7","v":2.1,"x":577,"y":519},{"g":"R8","v":2.1,"x":693,"y":516},{"g":"R8","v":2.1,"x":740,"y":518},{"g":"R9","v":2.1,"x":833,"y":516},{"g":"R9","v":2.1,"x":853,"y":516},{"g":"R10","v":2.1,"x":903,"y":520},{"g":"R10","v":2.1,"x":917,"y":518},{"g":"R11","v":2.1,"x":967,"y":518},{"g":"R11","v":2.1,"x":977,"y":518},{"g":"R12","v":1.9,"x":1013,"y":511},{"g":"R12","v":1.9,"x":1037,"y":510},{"g":"R13","v":1.9,"x":473,"y":528},{"g":"R13","v":1.9,"x":490,"y":528},{"g":"R14","v":1.9,"x":760,"y":522},{"g":"R14","v":1.9,"x":783,"y":517}]},"mark":{"type":"line","strokeWidth":4},"encoding":{"detail":{"field":"g"}}},
{"data":{"values":[{"x":95,"y":474,"v":0.9},{"x":95,"y":470,"v":1.2},{"x":95,"y":466,"v":1.6},{"x":95,"y":465,"v":2},{"x":95,"y":463,"v":2.5},{"x":95,"y":462,"v":3},{"x":205,"y":474,"v":0.9},{"x":205,"y":470,"v":1.2},{"x":205,"y":466,"v":1.6},{"x":205,"y":465,"v":2},{"x":205,"y":463,"v":2.5},{"x":205,"y":462,"v":3},{"x":315,"y":474,"v":0.9},{"x":315,"y":470,"v":1.2},{"x":315,"y":466,"v":1.6},{"x":315,"y":465,"v":2},{"x":315,"y":463,"v":2.5},{"x":315,"y":462,"v":3},{"x":425,"y":474,"v":0.9},{"x":425,"y":470,"v":1.2},{"x":425,"y":466,"v":1.6},{"x":425,"y":465,"v":2},{"x":425,"y":463,"v":2.5},{"x":425,"y":462,"v":3},{"x":535,"y":474,"v":0.9},{"x":535,"y":470,"v":1.2},{"x":535,"y":466,"v":1.6},{"x":535,"y":465,"v":2},{"x":535,"y":463,"v":2.5},{"x":535,"y":462,"v":3},{"x":645,"y":474,"v":0.9},{"x":645,"y":470,"v":1.2},{"x":645,"y":466,"v":1.6},{"x":645,"y":465,"v":2},{"x":645,"y":463,"v":2.5},{"x":645,"y":462,"v":3},{"x":755,"y":474,"v":0.9},{"x":755,"y":470,"v":1.2},{"x":755,"y":466,"v":1.6},{"x":755,"y":465,"v":2},{"x":755,"y":463,"v":2.5},{"x":755,"y":462,"v":3},{"x":865,"y":474,"v":0.9},{"x":865,"y":470,"v":1.2},{"x":865,"y":466,"v":1.6},{"x":865,"y":465,"v":2},{"x":865,"y":463,"v":2.5},{"x":865,"y":462,"v":3},{"x":975,"y":474,"v":0.9},{"x":975,"y":470,"v":1.2},{"x":975,"y":466,"v":1.6},{"x":975,"y":465,"v":2},{"x":975,"y":463,"v":2.5},{"x":975,"y":462,"v":3}]},"mark":{"type":"circle","opacity":1},"encoding":{"size":{"field":"v","type":"quantitative","legend":null,"scale":{"domain":[0.9,1.2,1.6,2,2.5,3],"range":[4900,3844,3136,2500,2116,1600]}},"order":{"field":"v"}}},
{"mark":{"type":"area","interpolate":"monotone"},"encoding":{"y2":{"datum":400},"color":{"value":"#ffffff"}}},
{"data":{"values":[{"x":37,"y":427},{"x":65,"y":439},{"x":93,"y":452},{"x":120,"y":439},{"x":148,"y":427},{"x":176,"y":439},{"x":203,"y":452},{"x":231,"y":439},{"x":259,"y":427},{"x":286,"y":439},{"x":314,"y":452},{"x":342,"y":439},{"x":369,"y":427},{"x":397,"y":439},{"x":425,"y":452},{"x":452,"y":439},{"x":470,"y":429}]},"mark":{"type":"line","interpolate":"monotone","strokeWidth":4},"encoding":{"color":{"value":"#f26a30"}}},
{"data":{"values":[{"x":37,"y":431},{"x":65,"y":443},{"x":93,"y":456},{"x":120,"y":443},{"x":148,"y":431},{"x":176,"y":443},{"x":203,"y":456},{"x":231,"y":443},{"x":259,"y":431},{"x":286,"y":443},{"x":314,"y":456},{"x":342,"y":443},{"x":369,"y":431},{"x":397,"y":443},{"x":425,"y":456},{"x":452,"y":443},{"x":480,"y":431},{"x":508,"y":443},{"x":535,"y":455},{"x":563,"y":442},{"x":591,"y":431},{"x":618,"y":442},{"x":646,"y":455},{"x":674,"y":442},{"x":702,"y":432},{"x":729,"y":442},{"x":757,"y":455},{"x":785,"y":442},{"x":812,"y":432},{"x":840,"y":443},{"x":868,"y":455},{"x":895,"y":443},{"x":923,"y":432},{"x":951,"y":443},{"x":978,"y":455},{"x":1006,"y":443},{"x":1038,"y":432}]},"mark":{"type":"line","interpolate":"monotone","strokeWidth":2.5},"encoding":{"color":{"value":"#7a0000"}}},
{"data":{"values":[{"x":37,"y":435},{"x":65,"y":447},{"x":93,"y":460},{"x":120,"y":447},{"x":148,"y":435},{"x":176,"y":447},{"x":203,"y":460},{"x":231,"y":447},{"x":259,"y":435},{"x":286,"y":447},{"x":314,"y":460},{"x":342,"y":447},{"x":369,"y":435},{"x":397,"y":447},{"x":425,"y":460},{"x":452,"y":447},{"x":480,"y":435},{"x":508,"y":447},{"x":535,"y":459},{"x":563,"y":446},{"x":591,"y":435},{"x":618,"y":446},{"x":646,"y":459},{"x":674,"y":446},{"x":702,"y":436},{"x":729,"y":446},{"x":757,"y":459},{"x":785,"y":446},{"x":812,"y":436},{"x":840,"y":447},{"x":868,"y":459},{"x":895,"y":447},{"x":923,"y":436},{"x":951,"y":447},{"x":978,"y":459},{"x":1006,"y":447},{"x":1038,"y":436}]},"mark":{"type":"line","interpolate":"monotone","strokeWidth":2},"encoding":{"color":{"value":"#e8d040"}}},
{"data":{"values":[{"x":481,"y":385,"y2":405}]},"mark":{"type":"rule","strokeDash":[4,2],"strokeWidth":1.2},"encoding":{"y2":{"field":"y2"},"color":{"value":"#000"}}},
{"data":{"values":[{"x":481,"y":410}]},"mark":{"type":"point","shape":"triangle-down","filled":true,"size":110,"opacity":1},"encoding":{"color":{"value":"#000"}}},
{"data":{"values":[{"t":"Crack tip","x":405,"y":375}]},"mark":{"type":"text","font":"Open Sans","fontSize":24.5,"align":"center"},"encoding":{"text":{"field":"t"},"color":{"value":"#222"}}},
{"data":{"values":[{"t":"Realistic","x":1063,"y":443},{"t":"oxidation","x":1063,"y":483},{"t":"kinetics","x":1063,"y":522}]},"mark":{"type":"text","font":"Open Sans","fontSize":28.5,"align":"left"},"encoding":{"text":{"field":"t"},"color":{"value":"#222"}}},
{"data":{"values":[{"t":"(a)","x":516,"y":327}]},"mark":{"type":"text","font":"Liberation Serif","fontSize":32,"align":"center"},"encoding":{"text":{"field":"t"},"color":{"value":"#222"}}}
]},
{"hconcat":[
{"width":4,"height":34,"data":{"values":[{"k":1}]},"mark":{"type":"rect","opacity":0},"encoding":{}},
{"width":1033,"height":34,"view":{"stroke":"#000","strokeWidth":3},
"data":{"values":[{"a":0,"b":0.06,"v":0.03},{"a":0.06,"b":0.12,"v":0.09},{"a":0.12,"b":0.18,"v":0.15},{"a":0.18,"b":0.24,"v":0.21},{"a":0.24,"b":0.3,"v":0.27},{"a":0.3,"b":0.36,"v":0.33},{"a":0.36,"b":0.42,"v":0.39},{"a":0.42,"b":0.48,"v":0.45},{"a":0.48,"b":0.54,"v":0.51},{"a":0.54,"b":0.6,"v":0.57},{"a":0.6,"b":0.66,"v":0.63},{"a":0.66,"b":0.72,"v":0.69},{"a":0.72,"b":0.78,"v":0.75},{"a":0.78,"b":0.84,"v":0.81},{"a":0.84,"b":0.9,"v":0.87},{"a":0.9,"b":0.96,"v":0.93},{"a":0.96,"b":1.02,"v":0.99},{"a":1.02,"b":1.08,"v":1.05},{"a":1.08,"b":1.14,"v":1.11},{"a":1.14,"b":1.2,"v":1.17},{"a":1.2,"b":1.26,"v":1.23},{"a":1.26,"b":1.32,"v":1.29},{"a":1.32,"b":1.38,"v":1.35},{"a":1.38,"b":1.44,"v":1.41},{"a":1.44,"b":1.5,"v":1.47},{"a":1.5,"b":1.56,"v":1.53},{"a":1.56,"b":1.62,"v":1.59},{"a":1.62,"b":1.68,"v":1.65},{"a":1.68,"b":1.74,"v":1.71},{"a":1.74,"b":1.8,"v":1.77},{"a":1.8,"b":1.86,"v":1.83},{"a":1.86,"b":1.92,"v":1.89},{"a":1.92,"b":1.98,"v":1.95},{"a":1.98,"b":2.04,"v":2.01},{"a":2.04,"b":2.1,"v":2.07},{"a":2.1,"b":2.16,"v":2.13},{"a":2.16,"b":2.22,"v":2.19},{"a":2.22,"b":2.28,"v":2.25},{"a":2.28,"b":2.34,"v":2.31},{"a":2.34,"b":2.4,"v":2.37},{"a":2.4,"b":2.46,"v":2.43},{"a":2.46,"b":2.52,"v":2.49},{"a":2.52,"b":2.58,"v":2.55},{"a":2.58,"b":2.64,"v":2.61},{"a":2.64,"b":2.7,"v":2.67},{"a":2.7,"b":2.76,"v":2.73},{"a":2.76,"b":2.82,"v":2.79},{"a":2.82,"b":2.88,"v":2.85},{"a":2.88,"b":2.94,"v":2.91},{"a":2.94,"b":3,"v":2.97}]},
"layer":[
{"mark":{"type":"rect"},"encoding":{"x":{"field":"a","type":"quantitative","scale":{"domain":[0,3],"nice":false,"zero":false},"axis":{"values":[0.18,0.36,0.54,0.72,0.9,1.08,1.26,1.44,1.62,1.8,1.98,2.16,2.34,2.52,2.7],"format":".2~f","title":null,"domain":false,"ticks":false,"grid":false,"labelFont":"DejaVu Sans","labelFontSize":18,"labelColor":"#333","labelPadding":7,"labelOverlap":false}},"x2":{"field":"b"},"color":{"field":"v","type":"quantitative","legend":null,"scale":{"domain":[0,0.36,0.54,0.72,0.9,1.08,1.26,1.5,1.8,2.1,2.4,2.7,3],"range":["#0000ff","#0070e0","#00a0d0","#00c8c8","#30d8a0","#70e070","#c0e840","#ffff00","#ffa000","#ff2000","#d00000","#980000","#600000"]}}}},
{"data":{"values":[{"a":0,"t":"0"}]},"mark":{"type":"text","font":"DejaVu Sans","fontSize":17,"dy":51,"dx":-1,"align":"left","color":"#333"},"encoding":{"x":{"field":"a","type":"quantitative"},"text":{"field":"t"}}},
{"data":{"values":[{"a":3,"t":"3"}]},"mark":{"type":"text","font":"DejaVu Sans","fontSize":17,"dy":51,"dx":-3,"align":"right","color":"#333"},"encoding":{"x":{"field":"a","type":"quantitative"},"text":{"field":"t"}}},
{"data":{"values":[{"a":1.374,"t":"p"}]},"mark":{"type":"text","font":"DejaVu Sans","fontSize":20,"dy":69,"align":"left","color":"#333"},"encoding":{"x":{"field":"a","type":"quantitative"},"text":{"field":"t"}}},
{"data":{"values":[{"a":1.403,"t":"BC"}]},"mark":{"type":"text","font":"DejaVu Sans","fontSize":15,"dy":73,"align":"left","color":"#333"},"encoding":{"x":{"field":"a","type":"quantitative"},"text":{"field":"t"}}}
]}
],"spacing":0,"bounds":"flush"},
{"width":1034,"height":270,"data":{"values":[{"t":"(b)","x":523,"y":680}]},"mark":{"type":"text","font":"Liberation Serif","fontSize":32,"align":"center","color":"#222"},"encoding":{"text":{"field":"t"},"x":{"field":"x","type":"quantitative","scale":{"domain":[8,1042],"nice":false,"zero":false},"axis":null},"y":{"field":"y","type":"quantitative","scale":{"domain":[557,827],"reverse":true,"nice":false,"zero":false},"axis":null}}},
{"hconcat":[
{"width":299,"height":406,"data":{"values":[{"k":1}]},"mark":{"type":"rect","opacity":0},"encoding":{}},
{"width":503,"height":406,"view":{"stroke":"#555","strokeWidth":2},
"data":{"values":[
{"s":"#4 : accelerated","x":1.26,"y":7.6},{"s":"#4 : accelerated","x":2.16,"y":11.8},{"s":"#4 : accelerated","x":2.79,"y":16.7},{"s":"#4 : accelerated","x":3.29,"y":19.4},{"s":"#4 : accelerated","x":3.73,"y":23},{"s":"#4 : accelerated","x":4.12,"y":24},{"s":"#4 : accelerated","x":4.48,"y":25.1},{"s":"#4 : accelerated","x":4.8,"y":26.7},{"s":"#4 : accelerated","x":5.12,"y":27.4},{"s":"#4 : accelerated","x":5.41,"y":27.7},{"s":"#4 : accelerated","x":5.69,"y":28},
{"s":"#5 : realistic","x":1.26,"y":7.6},{"s":"#5 : realistic","x":1.46,"y":7.5},{"s":"#5 : realistic","x":1.59,"y":8.2},{"s":"#5 : realistic","x":1.79,"y":9.85},{"s":"#5 : realistic","x":1.99,"y":12.3},{"s":"#5 : realistic","x":2.15,"y":14.8},{"s":"#5 : realistic","x":2.29,"y":17.2},{"s":"#5 : realistic","x":2.39,"y":19.7},{"s":"#5 : realistic","x":2.47,"y":21.9},{"s":"#5 : realistic","x":2.55,"y":23},{"s":"#5 : realistic","x":2.75,"y":24.6},
{"s":"exp : N = 100 L-FCT + 871 S-FCT","x":2.6,"y":38},{"s":"exp : N = 100 L-FCT + 871 S-FCT","x":2.6,"y":27},{"s":"exp : N = 100 L-FCT + 871 S-FCT","x":2.6,"y":25}
]},
"encoding":{"x":{"field":"x","type":"quantitative","scale":{"domain":[1,6],"nice":false,"zero":false},"axis":{"values":[1,2,3,4,5,6],"title":"hₒₓ(μm)","titleFont":"Liberation Serif","titleFontSize":40,"titleFontWeight":"normal","titleColor":"#222","titlePadding":2,"labelFont":"Liberation Serif","labelFontSize":36,"labelColor":"#222","labelPadding":2,"tickSize":6,"tickColor":"#555","domain":false,"gridDash":[4,3],"gridColor":"#b0b0b0","labelFlush":false,"labelOverlap":false}},"y":{"field":"y","type":"quantitative","scale":{"domain":[6.05,39.44],"nice":false,"zero":false},"axis":{"values":[10,15,20,25,30,35],"title":"δ(μm)","titleFont":"Liberation Serif","titleFontSize":42,"titleFontWeight":"normal","titleColor":"#222","titlePadding":6,"labelFont":"Liberation Serif","labelFontSize":36,"labelColor":"#222","labelPadding":6,"tickSize":6,"tickColor":"#555","domain":false,"gridDash":[4,3],"gridColor":"#b0b0b0","labelFlush":false,"labelOverlap":false}}},
"layer":[
{"transform":[{"filter":"datum.s=='#4 : accelerated'"}],"mark":{"type":"line","strokeWidth":2,"color":"#800080"}},
{"transform":[{"filter":"datum.s=='#5 : realistic'"}],"mark":{"type":"line","strokeWidth":2.2,"color":"#000","interpolate":"monotone"}},
{"transform":[{"filter":"datum.s=='#4 : accelerated'"}],"mark":{"type":"point","shape":"triangle-up","filled":true,"size":110,"opacity":1,"color":"#800080"}},
{"data":{"values":[]},"mark":{"type":"point","filled":true,"opacity":1},"encoding":{"color":{"field":"s","type":"nominal","scale":{"domain":["#4 : accelerated","#5 : realistic"],"range":["#800080","#000000"]},"legend":{"orient":"none","legendX":-2,"legendY":-99,"columns":2,"title":null,"symbolSize":2704,"labelFont":"Liberation Serif","labelFontSize":26,"labelColor":"#222","labelOffset":20,"strokeColor":"#dddddd","cornerRadius":4,"padding":6,"columnPadding":46,"clipHeight":30,"labelLimit":300}},"shape":{"field":"s","type":"nominal","scale":{"domain":["#4 : accelerated","#5 : realistic"],"range":["M-1,-.035H1V.035H-1Z M0,-.25L.22,.2H-.22Z","M-1,-.035H1V.035H-1Z"]},"legend":{"orient":"none","legendX":-2,"legendY":-99,"columns":2,"title":null,"symbolSize":2704,"labelFont":"Liberation Serif","labelFontSize":26,"labelColor":"#222","labelOffset":20,"strokeColor":"#dddddd","cornerRadius":4,"padding":6,"columnPadding":46,"clipHeight":30,"labelLimit":300}}}},
{"transform":[{"filter":"indexof(datum.s,'exp')==0"}],"mark":{"type":"circle","size":130,"opacity":1},"encoding":{"fill":{"field":"s","type":"nominal","scale":{"range":["#ff0000"]},"legend":{"orient":"none","legendX":25,"legendY":-50,"title":null,"symbolType":"M-.21,0A.21,.21 0 1,1 .21,0A.21,.21 0 1,1 -.21,0Z","symbolSize":2704,"labelFont":"Liberation Serif","labelFontSize":26,"labelColor":"#222","labelOffset":20,"strokeColor":"#dddddd","cornerRadius":4,"padding":6,"clipHeight":30,"labelLimit":400,"symbolStrokeWidth":0}}}},
{"data":{"values":[{"t":"(c)","x":3.14,"y":-3.3}]},"mark":{"type":"text","font":"Liberation Serif","fontSize":32,"align":"center","color":"#222"},"encoding":{"text":{"field":"t"}}}
]}
],"spacing":0,"bounds":"flush","resolve":{"scale":{"color":"independent","shape":"independent","fill":"independent"}}}
]}
